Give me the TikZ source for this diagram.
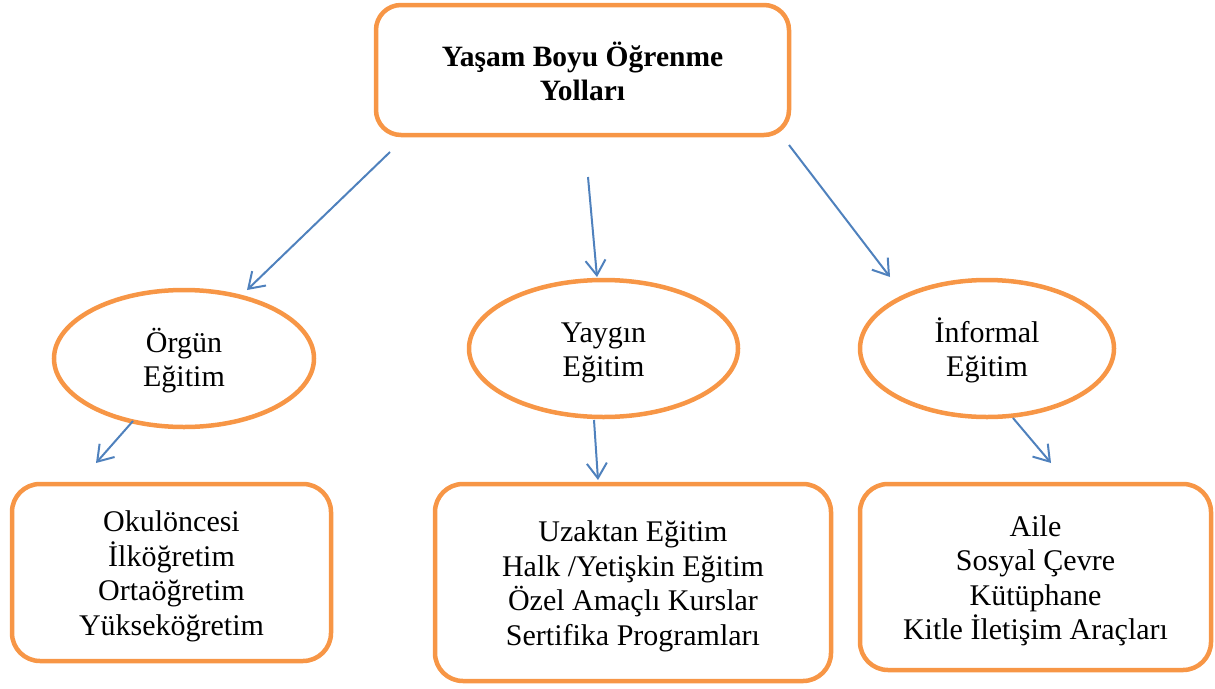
\documentclass[tikz,border=0pt]{standalone}
\usepackage{fontspec}
\setmainfont{Liberation Serif}
\usetikzlibrary{shapes.geometric,arrows.meta}
\definecolor{borange}{HTML}{F79646}
\definecolor{ablue}{HTML}{4F81BD}
\tikzset{
  rbox/.style={draw=borange, line width=4.5pt, rounded corners=28pt, rectangle,
    inner sep=0pt, align=center, font=\fontsize{30}{34.5}\selectfont},
  ovalnode/.style={draw=borange, line width=4.5pt, ellipse, inner sep=0pt,
    align=center, font=\fontsize{30}{34.5}\selectfont},
  arr/.style={draw=ablue, line width=2pt, -{Straight Barb[length=15pt,width=20pt]}}
}
\newcommand{\topstrut}{\rule{0pt}{28pt}}
\begin{document}
\begin{tikzpicture}[x=1pt,y=-1pt]
\useasboundingbox (0,0) rectangle (1215,688);
% top box
\node[rbox, rounded corners=25pt, minimum width=413pt, minimum height=130pt,
  font=\fontsize{29.5}{34}\selectfont\bfseries] (top) at (582.5,70) {\topstrut Yaşam Boyu Öğrenme\\Yolları};
% ellipses
\node[ovalnode, minimum width=260pt, minimum height=137pt] (e1) at (184,358.5) {\topstrut Örgün\\Eğitim};
\node[ovalnode, minimum width=269pt, minimum height=137pt] (e2) at (603.5,348.5) {\topstrut Yaygın\\Eğitim};
\node[ovalnode, minimum width=254pt, minimum height=137pt] (e3) at (987,348.5) {\topstrut İnformal\\Eğitim};
% bottom boxes
\node[rbox, minimum width=319pt, minimum height=177pt] (b1) at (171.5,572.5)
  {\topstrut Okulöncesi\\İlköğretim\\Ortaöğretim\\Yükseköğretim};
\node[rbox, minimum width=396pt, minimum height=197pt] (b2) at (633,582.5)
  {\topstrut Uzaktan Eğitim\\Halk /Yetişkin Eğitim\\Özel Amaçlı Kurslar\\Sertifika Programları};
\node[rbox, minimum width=351pt, minimum height=186pt] (b3) at (1035.5,577)
  {\topstrut Aile\\Sosyal Çevre\\Kütüphane\\Kitle İletişim Araçları};
% arrow end points
\coordinate (a1s) at (390,152); \coordinate (a1e) at (247,290);
\coordinate (a2s) at (588,177); \coordinate (a2e) at (597,277);
\coordinate (a3s) at (789,145); \coordinate (a3e) at (890,277);
\coordinate (a4s) at (133,421); \coordinate (a4e) at (96,463);
\coordinate (a5s) at (594,420); \coordinate (a5e) at (598,480);
\coordinate (a6s) at (1013,418); \coordinate (a6e) at (1051,463);
\draw[arr] (a1s) -- (a1e);
\draw[arr] (a2s) -- (a2e);
\draw[arr] (a3s) -- (a3e);
\draw[arr] (a4s) -- (a4e);
\draw[arr] (a5s) -- (a5e);
\draw[arr] (a6s) -- (a6e);
\end{tikzpicture}
\end{document}
